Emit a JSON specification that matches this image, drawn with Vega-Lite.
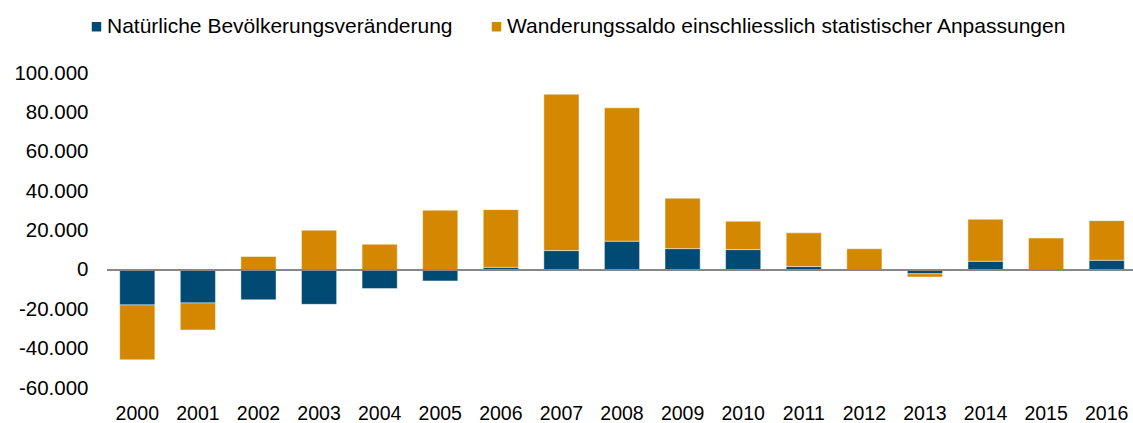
{
  "$schema": "https://vega.github.io/schema/vega-lite/v6.json",
  "width": 1030,
  "height": 315,
  "autosize": {"type": "none"},
  "padding": {"left": 107, "top": 73, "right": 0, "bottom": 35},
  "background": "white",
  "config": {
    "view": {"stroke": null},
    "font": "Liberation Sans",
    "locale": {"number": {"decimal": ",", "thousands": ".", "grouping": [3], "currency": ["", " €"], "minus": "-"}}
  },
  "data": {
    "values": [
      {"jahr": "2000", "serie": "Natürliche Bevölkerungsveränderung", "wert": -17800, "ord": 1},
      {"jahr": "2000", "serie": "Wanderungssaldo einschliesslich statistischer Anpassungen", "wert": -27900, "ord": 2},
      {"jahr": "2001", "serie": "Natürliche Bevölkerungsveränderung", "wert": -16800, "ord": 1},
      {"jahr": "2001", "serie": "Wanderungssaldo einschliesslich statistischer Anpassungen", "wert": -13700, "ord": 2},
      {"jahr": "2002", "serie": "Natürliche Bevölkerungsveränderung", "wert": -15200, "ord": 1},
      {"jahr": "2002", "serie": "Wanderungssaldo einschliesslich statistischer Anpassungen", "wert": 6800, "ord": 2},
      {"jahr": "2003", "serie": "Natürliche Bevölkerungsveränderung", "wert": -17500, "ord": 1},
      {"jahr": "2003", "serie": "Wanderungssaldo einschliesslich statistischer Anpassungen", "wert": 20100, "ord": 2},
      {"jahr": "2004", "serie": "Natürliche Bevölkerungsveränderung", "wert": -9500, "ord": 1},
      {"jahr": "2004", "serie": "Wanderungssaldo einschliesslich statistischer Anpassungen", "wert": 13000, "ord": 2},
      {"jahr": "2005", "serie": "Natürliche Bevölkerungsveränderung", "wert": -5600, "ord": 1},
      {"jahr": "2005", "serie": "Wanderungssaldo einschliesslich statistischer Anpassungen", "wert": 30300, "ord": 2},
      {"jahr": "2006", "serie": "Natürliche Bevölkerungsveränderung", "wert": 1300, "ord": 1},
      {"jahr": "2006", "serie": "Wanderungssaldo einschliesslich statistischer Anpassungen", "wert": 29300, "ord": 2},
      {"jahr": "2007", "serie": "Natürliche Bevölkerungsveränderung", "wert": 9800, "ord": 1},
      {"jahr": "2007", "serie": "Wanderungssaldo einschliesslich statistischer Anpassungen", "wert": 79400, "ord": 2},
      {"jahr": "2008", "serie": "Natürliche Bevölkerungsveränderung", "wert": 14600, "ord": 1},
      {"jahr": "2008", "serie": "Wanderungssaldo einschliesslich statistischer Anpassungen", "wert": 67700, "ord": 2},
      {"jahr": "2009", "serie": "Natürliche Bevölkerungsveränderung", "wert": 10800, "ord": 1},
      {"jahr": "2009", "serie": "Wanderungssaldo einschliesslich statistischer Anpassungen", "wert": 25600, "ord": 2},
      {"jahr": "2010", "serie": "Natürliche Bevölkerungsveränderung", "wert": 10300, "ord": 1},
      {"jahr": "2010", "serie": "Wanderungssaldo einschliesslich statistischer Anpassungen", "wert": 14400, "ord": 2},
      {"jahr": "2011", "serie": "Natürliche Bevölkerungsveränderung", "wert": 1700, "ord": 1},
      {"jahr": "2011", "serie": "Wanderungssaldo einschliesslich statistischer Anpassungen", "wert": 17100, "ord": 2},
      {"jahr": "2012", "serie": "Natürliche Bevölkerungsveränderung", "wert": 100, "ord": 1},
      {"jahr": "2012", "serie": "Wanderungssaldo einschliesslich statistischer Anpassungen", "wert": 10600, "ord": 2},
      {"jahr": "2013", "serie": "Natürliche Bevölkerungsveränderung", "wert": -2000, "ord": 1},
      {"jahr": "2013", "serie": "Wanderungssaldo einschliesslich statistischer Anpassungen", "wert": -1600, "ord": 2},
      {"jahr": "2014", "serie": "Natürliche Bevölkerungsveränderung", "wert": 4400, "ord": 1},
      {"jahr": "2014", "serie": "Wanderungssaldo einschliesslich statistischer Anpassungen", "wert": 21300, "ord": 2},
      {"jahr": "2015", "serie": "Natürliche Bevölkerungsveränderung", "wert": 150, "ord": 1},
      {"jahr": "2015", "serie": "Wanderungssaldo einschliesslich statistischer Anpassungen", "wert": 16000, "ord": 2},
      {"jahr": "2016", "serie": "Natürliche Bevölkerungsveränderung", "wert": 4900, "ord": 1},
      {"jahr": "2016", "serie": "Wanderungssaldo einschliesslich statistischer Anpassungen", "wert": 20100, "ord": 2}
    ]
  },
  "layer": [
    {
      "mark": {"type": "bar", "stroke": "#ffffff", "strokeWidth": 1, "strokeOpacity": 0.45},
      "encoding": {
        "x": {
          "field": "jahr", "type": "ordinal", "title": null,
          "scale": {"paddingInner": 0.42, "paddingOuter": 0.21},
          "axis": {"domain": false, "ticks": false, "tickSize": 0, "labelPadding": 16, "labelFontSize": 19.5, "labelColor": "#000000", "labelAngle": 0, "labelFont": "Liberation Sans", "labelOverlap": false}
        },
        "y": {
          "field": "wert", "type": "quantitative", "title": null, "stack": "zero",
          "scale": {"domain": [-60000, 100000], "nice": false, "zero": false},
          "axis": {"tickCount": 8, "format": ",d", "domain": false, "ticks": false, "tickSize": 0, "grid": false, "labelPadding": 19, "labelFontSize": 20.5, "labelColor": "#000000", "labelFont": "Liberation Sans", "labelOverlap": false, "labelSeparation": 0}
        },
        "color": {
          "field": "serie", "type": "nominal", "title": null,
          "scale": {"domain": ["Natürliche Bevölkerungsveränderung", "Wanderungssaldo einschliesslich statistischer Anpassungen"], "range": ["#004a73", "#d48700"]},
          "legend": {"orient": "none", "direction": "horizontal", "legendX": -21, "legendY": -57, "padding": 0, "symbolType": "square", "symbolSize": 90, "symbolStrokeWidth": 0, "labelFontSize": 21, "labelColor": "#000000", "labelFont": "Liberation Sans", "labelOffset": 0, "columnPadding": 33, "labelLimit": 0}
        },
        "order": {"field": "ord", "type": "quantitative"}
      }
    },
    {
      "mark": {"type": "rule", "color": "#878787", "strokeWidth": 2},
      "encoding": {"y": {"datum": 0, "type": "quantitative"}}
    }
  ]
}
